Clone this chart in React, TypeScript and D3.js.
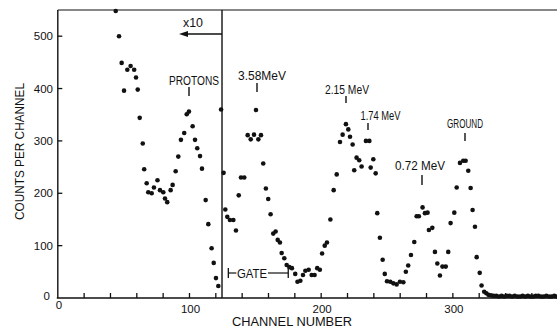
import React from "react";
import * as d3 from "d3";

// x10 region (protons), channel / counts
const protonChannels = [44, 46.5, 48.5, 50.3, 52.8, 55.3, 58, 59.4, 60.7, 62.2, 64.5, 65.6, 67.5, 68.7, 71.3, 73, 75.7, 77.6, 80.1, 81.4, 83.1, 85.7, 87.2, 89.5, 91.5, 93.5, 96, 97.9, 99.6, 102.4, 104.2, 105.9, 108, 109.5, 112.3, 114.3, 116.8, 118.4, 120.1, 121.9];
const protonCounts = [548, 500, 449, 396, 436, 443, 436, 421, 398, 344, 295, 246, 219, 202, 200, 211, 225, 206, 202, 190, 183, 206, 216, 242, 270, 302, 315, 351, 356, 328, 302, 286, 271, 247, 187, 141, 95, 67, 38, 23];

// x1 region (gamma lines)
const mainChannels = [124, 125.9, 127.2, 128.7, 130.7, 133.3, 135.3, 137.4, 139.1, 141.6, 144.2, 146.5, 149, 150.5, 152.3, 154.3, 156, 158, 159.8, 161.6, 163.6, 165.4, 167, 168.7, 170, 172, 173.8, 175.8, 177.8, 180.3, 182, 184.2, 186.2, 188, 190.5, 192.8, 195, 197, 199, 200.7, 202.7, 204.4, 207, 209.5, 211.8, 214.3, 216.3, 218.8, 220.6, 221.9, 223.9, 225.1, 226.9, 228.9, 230.7, 234, 236.6, 237.6, 239.6, 241.4, 242.6, 244.6, 246.7, 248.3, 250, 252.5, 254.8, 257.3, 259.8, 262.4, 264.3, 266.1, 268.2, 270.7, 272.5, 274.2, 277, 278.8, 280.8, 281.8, 284.4, 286.4, 288.2, 290.2, 292.1, 294.6, 296.5, 298.3, 301.1, 302.9, 305.4, 307.9, 309.7, 311.7, 313.5, 315, 316.8, 318.1, 320.4, 321.8, 323.8, 325.4];
const mainCounts = [360, 239, 169, 155, 149, 149, 129, 196, 230, 230, 311, 303, 312, 359, 303, 311, 257, 209, 189, 160, 123, 127, 111, 106, 86, 76, 63, 59, 57, 46, 31, 33, 44, 52, 54, 44, 44, 57, 54, 85, 100, 106, 150, 206, 236, 298, 312, 332, 322, 308, 293, 244, 268, 263, 251, 300, 300, 249, 265, 238, 162, 115, 73, 46, 32, 31, 28, 26, 31, 30, 50, 62, 82, 107, 156, 156, 173, 162, 163, 130, 134, 88, 66, 43, 60, 60, 88, 143, 163, 211, 258, 262, 262, 243, 210, 168, 136, 78, 48, 24, 12, 9];

// background tail past the ground-state peak
const tailChannels = [327, 329, 331, 333, 335, 337, 339, 341, 343, 345, 347, 349, 351, 353, 355, 357, 359, 361, 363, 365, 367, 369, 371, 373, 375, 377, 379];
const tailCounts = [6, 5, 4, 4, 3, 4, 3, 4, 4, 3, 4, 3, 3, 4, 3, 4, 3, 3, 4, 4, 3, 3, 4, 3, 3, 4, 3];

const yTicks = [100, 200, 300, 400, 500];
const xTickLabels = [100, 200, 300];
const xMinorTicks = [20, 40, 60, 80, 100, 120, 140, 160, 180, 200, 220, 240, 260, 280, 300, 320, 340, 360];

const W = 557;
const H = 329;
const FONT = "'Liberation Sans', Arial, sans-serif";

export default function App() {
  const x = d3.scaleLinear().domain([0, 380]).range([57.8, 558.2]);
  const y = d3.scaleLinear().domain([0, 550]).range([298, 10]);
  const x0 = x(0);
  const y0 = y(0);
  const yTop = y(550);

  const points = [
    ...protonChannels.map((c, i) => [c, protonCounts[i]]),
    ...mainChannels.map((c, i) => [c, mainCounts[i]]),
    ...tailChannels.map((c, i) => [c, tailCounts[i]]),
  ];

  const divider = x(124.7);

  const labels = [
    { text: "PROTONS", cx: 194, by: 84.5, len: 50, tick: 189, t0: 87, t1: 96 },
    { text: "3.58MeV", cx: 262, by: 80, len: 48, tick: 257, t0: 83, t1: 92 },
    { text: "2.15 MeV", cx: 347, by: 93.5, len: 44, tick: 346, t0: 96, t1: 103 },
    { text: "1.74 MeV", cx: 380.5, by: 119.5, len: 40, tick: 368, t0: 123, t1: 130 },
    { text: "GROUND", cx: 465, by: 127.5, len: 36, tick: 465, t0: 133, t1: 141 },
    { text: "0.72 MeV", cx: 420, by: 169.5, len: 50, tick: 422, t0: 175, t1: 185 },
  ];

  const gL = x(129.5);
  const gR = x(175);
  const gY = 273;

  return (
    <svg
      width={W}
      height={H}
      style={{ position: "absolute", left: 0, top: 0, background: "#fff" }}
      fontFamily={FONT}
    >
      <rect x={0} y={0} width={W} height={H} fill="#fff" />
      {/* frame */}
      <line x1={x0} y1={yTop} x2={x0} y2={y0} stroke="#111" strokeWidth={1.4} />
      <line x1={x0 - 1} y1={y0} x2={W} y2={y0} stroke="#111" strokeWidth={1.4} />
      <line x1={x0} y1={yTop} x2={W} y2={yTop} stroke="#111" strokeWidth={1.2} />
      {/* y ticks */}
      {yTicks.map((t) => (
        <g key={"y" + t}>
          <line x1={x0} x2={x0 + 4.5} y1={y(t)} y2={y(t)} stroke="#111" strokeWidth={1.3} />
          <text x={53} y={y(t) + 4} textAnchor="end" fontSize={11.5} fill="#111">
            {t}
          </text>
        </g>
      ))}
      <text x={50} y={300} textAnchor="end" fontSize={11.5} fill="#111">0</text>
      <text x={59} y={309} textAnchor="middle" fontSize={11.5} fill="#111">0</text>
      {/* x ticks */}
      {xMinorTicks.map((t) => (
        <line key={"xt" + t} x1={x(t)} x2={x(t)} y1={y0} y2={y0 - 5} stroke="#111" strokeWidth={1.3} />
      ))}
      {xTickLabels.map((t) => (
        <text key={"xl" + t} x={x(t) + 1} y={312.5} textAnchor="middle" fontSize={11.5} fill="#111">
          {t}
        </text>
      ))}
      {/* axis titles */}
      <text
        transform={`translate(24,151.5) rotate(-90)`}
        textAnchor="middle"
        fontSize={12.5}
        textLength={137}
        lengthAdjust="spacingAndGlyphs"
        fill="#111"
      >
        COUNTS PER CHANNEL
      </text>
      <text
        x={292}
        y={326}
        textAnchor="middle"
        fontSize={12}
        textLength={120}
        lengthAdjust="spacingAndGlyphs"
        fill="#111"
      >
        CHANNEL  NUMBER
      </text>
      {/* divider and x10 */}
      <line x1={divider} x2={divider} y1={yTop} y2={y0} stroke="#111" strokeWidth={1.4} />
      <text x={193} y={27} textAnchor="middle" fontSize={12.5} textLength={20} lengthAdjust="spacingAndGlyphs" fill="#111">
        x10
      </text>
      <line x1={185} x2={divider} y1={34} y2={34} stroke="#111" strokeWidth={1.3} />
      <path d="M179,34 L188,31 L188,37 Z" fill="#111" />
      {/* peak labels */}
      {labels.map((l) => (
        <g key={l.text}>
          <text
            x={l.cx}
            y={l.by}
            textAnchor="middle"
            fontSize={12.5}
            textLength={l.len}
            lengthAdjust="spacingAndGlyphs"
            fill="#111"
          >
            {l.text}
          </text>
          <line x1={l.tick} x2={l.tick} y1={l.t0} y2={l.t1} stroke="#111" strokeWidth={1.4} />
        </g>
      ))}
      {/* gate */}
      <line x1={gL} x2={gL} y1={gY - 5} y2={gY + 5} stroke="#111" strokeWidth={1.3} />
      <line x1={gL} x2={gL + 8} y1={gY} y2={gY} stroke="#111" strokeWidth={1.2} />
      <text x={252} y={gY + 4.5} textAnchor="middle" fontSize={12} textLength={30} lengthAdjust="spacingAndGlyphs" fill="#111">
        GATE
      </text>
      <line x1={268} x2={gR} y1={gY} y2={gY} stroke="#111" strokeWidth={1.2} />
      <line x1={gR} x2={gR} y1={gY - 5} y2={gY + 5} stroke="#111" strokeWidth={1.3} />
      {/* data */}
      {points.map((p, i) => (
        <circle key={i} cx={x(p[0])} cy={y(p[1])} r={2.3} fill="#111" />
      ))}
    </svg>
  );
}
